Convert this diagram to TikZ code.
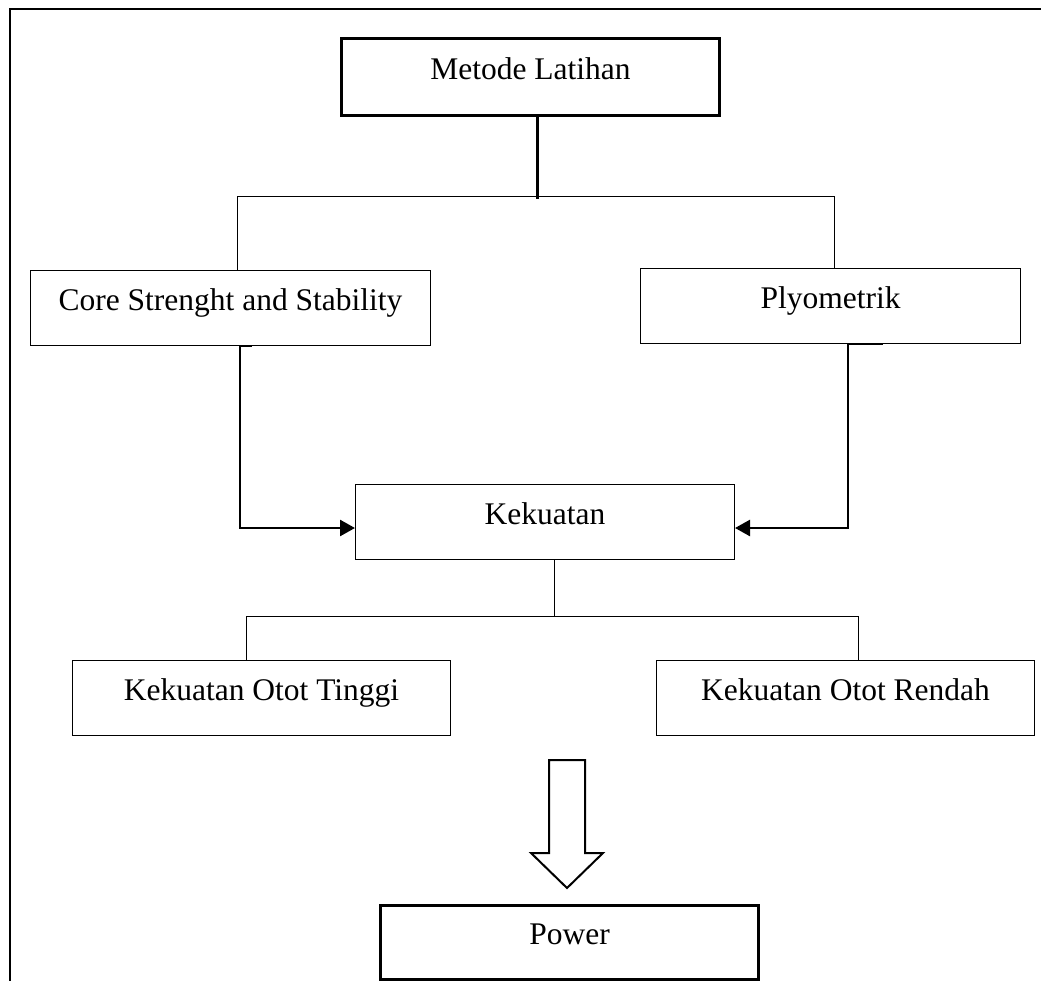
\documentclass[tikz,border=0pt]{standalone}
\usepackage{fontspec}
\setmainfont{Liberation Serif}
\usetikzlibrary{arrows.meta}
\begin{document}
\begin{tikzpicture}[x=1pt,y=-1pt,
  box/.style={draw, line width=1pt, rectangle, anchor=north west, inner sep=0pt,
    font=\fontsize{31.5}{37}\selectfont, text height=12pt, text depth=8pt},
  heavybox/.style={box, line width=3pt},
  thinline/.style={line width=1pt},
  flowline/.style={line width=2.5pt, -{Triangle[length=15pt,width=16pt]}},
  blockarrow/.style={draw, line width=2pt, line join=miter, fill=white}]
\useasboundingbox (0,0) rectangle (1041,980);
\clip (0,0) rectangle (1041,980);
% outer frame
\draw[line width=2.2pt] (10,1000) -- (10,9) -- (1060,9);
% boxes
\node[heavybox, minimum width=378pt, minimum height=77pt] (metode) at (340,37) {Metode Latihan};
\node[box, minimum width=400pt, minimum height=75pt] (core) at (30,270) {Core Strenght and Stability};
\node[box, minimum width=380pt, minimum height=75pt] (plyo) at (640,268) {Plyometrik};
\node[box, minimum width=379pt, minimum height=75pt] (kek) at (355,484) {Kekuatan};
\node[box, minimum width=378pt, minimum height=75pt] (tinggi) at (72,660) {Kekuatan Otot Tinggi};
\node[box, minimum width=378pt, minimum height=75pt] (rendah) at (656,660) {Kekuatan Otot Rendah};
\node[heavybox, minimum width=378pt, minimum height=74pt] (power) at (379,904) {Power};
% coordinates
\coordinate (hub) at (537,199);
\coordinate (barL) at (237,196);
\coordinate (barR) at (834,196);
\coordinate (cL) at (240,528);
\coordinate (cR) at (848,528);
\coordinate (kekdown) at (554,616);
\coordinate (bar2L) at (246,616);
\coordinate (bar2R) at (858,616);
% connectors
\draw[line width=3pt] (metode.south -| hub) -- (hub);
\draw[thinline] (core.north -| barL) -- (barL) -- (barR) -- (plyo.north -| barR);
\draw[flowline] ([xshift=12pt]core.south -| cL) -- (core.south -| cL) -- (cL) -- (kek.west |- cL);
\draw[flowline] ([xshift=35pt]plyo.south -| cR) -- (plyo.south -| cR) -- (cR) -- (kek.east |- cR);
\draw[thinline] (kek.south -| kekdown) -- (kekdown);
\draw[thinline] (tinggi.north -| bar2L) -- (bar2L) -- (bar2R) -- (rendah.north -| bar2R);
% block arrow
\draw[blockarrow] (549,760) -- (585,760) -- (585,853) -- (603,853) -- (567,888) -- (531,853) -- (549,853) -- cycle;
\end{tikzpicture}
\end{document}
